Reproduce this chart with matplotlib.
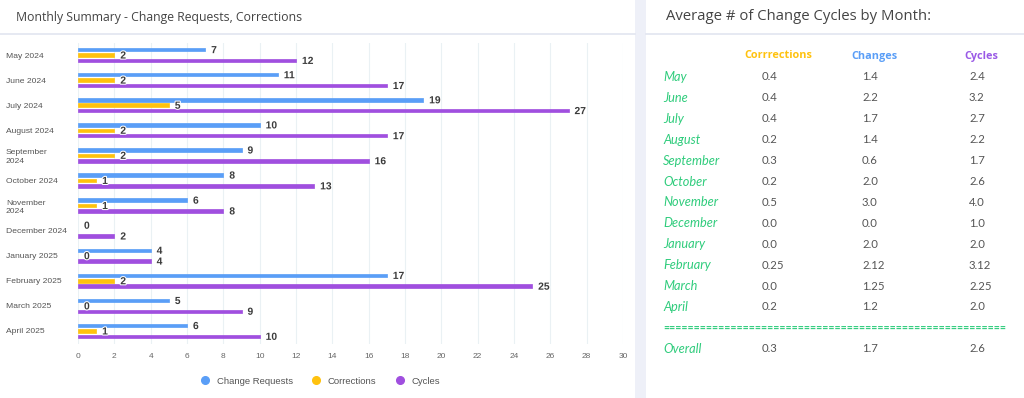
import matplotlib
matplotlib.use("Agg")
import matplotlib.pyplot as plt
import numpy as np
from matplotlib.patches import Rectangle
from matplotlib.lines import Line2D
import matplotlib.patheffects as pe

# ---------------- data ----------------
months = ["May 2024", "June 2024", "July 2024", "August 2024", "September\n2024",
          "October 2024", "November\n2024", "December 2024", "January 2025",
          "February 2025", "March 2025", "April 2025"]
change_requests = [7, 11, 19, 10, 9, 8, 6, 0, 4, 17, 5, 6]
corrections = [2, 2, 5, 2, 2, 1, 1, None, 0, 2, 0, 1]
cycles = [12, 17, 27, 17, 16, 13, 8, 2, 4, 25, 9, 10]
x_ticks = list(range(0, 31, 2))

table_months = ["May", "June", "July", "August", "September", "October", "November",
                "December", "January", "February", "March", "April"]
table_headers = ["Corrrections", "Changes", "Cycles"]
avg_corrections = ["0.4", "0.4", "0.4", "0.2", "0.3", "0.2", "0.5", "0.0", "0.0", "0.25", "0.0", "0.2"]
avg_changes = ["1.4", "2.2", "1.7", "1.4", "0.6", "2.0", "3.0", "0.0", "2.0", "2.12", "1.25", "1.2"]
avg_cycles = ["2.4", "3.2", "2.7", "2.2", "1.7", "2.6", "4.0", "1.0", "2.0", "3.12", "2.25", "2.0"]
overall = ["0.3", "1.7", "2.6"]

# ---------------- style ----------------
BLUE = "#5a9ef7"
YELLOW = "#ffc20e"
PURPLE = "#a04fdf"
GREEN = "#2fcc7c"
W, H = 1024, 398

fig = plt.figure(figsize=(W / 100, H / 100), dpi=100)
fig.patch.set_facecolor("white")

def fx(px):
    return px / W

def fy(py):
    return 1 - py / H

# background panels
fig.patches.append(Rectangle((fx(635), 0), fx(646) - fx(635), 1, transform=fig.transFigure,
                             facecolor="#eef0f8", edgecolor="none", zorder=0))
fig.lines.append(Line2D([0, fx(635)], [fy(34), fy(34)], transform=fig.transFigure,
                        color="#e2e5f0", lw=1.2))
fig.lines.append(Line2D([fx(646), 1], [fy(34), fy(34)], transform=fig.transFigure,
                        color="#e2e5f0", lw=1.2))

# titles
fig.text(fx(16), fy(17), "Monthly Summary - Change Requests, Corrections", fontsize=8.8,
         family="Open Sans", color="#444444", va="center", ha="left")
fig.text(fx(666), fy(17), "Average # of Change Cycles by Month:", fontsize=10.7,
         family="Open Sans", color="#444444", va="center", ha="left")

# ---------------- bar chart ----------------
ax = fig.add_axes([fx(78), fy(343.5), fx(623) - fx(78), (343.5 - 42.5) / H])
ax.set_facecolor("none")
y = np.arange(len(months))
off = 0.215
h = 0.14
series = [(change_requests, BLUE, -off, "Change Requests"),
          (corrections, YELLOW, 0.0, "Corrections"),
          (cycles, PURPLE, off, "Cycles")]
for vals, col, o, name in series:
    for i, v in enumerate(vals):
        if v is None:
            continue
        if v > 0:
            ax.barh(y[i] + o, v, height=h, color=col, edgecolor=col, linewidth=0.5,
                    joinstyle="round", zorder=3)
        ax.text(v + 0.33, y[i] + o + 0.02, str(v), fontsize=7.4, fontweight="bold",
                family="Liberation Sans", color="#3b3b3b", va="center", ha="left", zorder=4,
                path_effects=[pe.withStroke(linewidth=1.5, foreground="white")])

ax.set_xlim(0, 30)
ax.set_ylim(len(months) - 0.5, -0.5)
ax.set_xticks(x_ticks)
ax.set_xticklabels([str(t) for t in x_ticks], fontsize=6, color="#666666",
                   family="Liberation Sans")
ax.set_yticks(y)
ax.set_yticklabels(months, fontsize=6.1, color="#555555", family="Liberation Sans",
                   ha="left", linespacing=1.25)
ax.tick_params(axis="y", length=0, pad=(78 - 6) * 0.72)
ax.tick_params(axis="x", length=0, pad=7)
ax.grid(axis="x", color="#eaf1f4", lw=0.8, zorder=0)
ax.grid(axis="y", visible=False)
for s in ax.spines.values():
    s.set_visible(False)

handles = [Line2D([], [], marker="o", ls="none", markersize=5.5, markerfacecolor=c,
                  markeredgecolor=c, label=n) for _, c, _, n in series]
fig.legend(handles=handles, loc="center", bbox_to_anchor=(fx(318), fy(381)), ncol=3,
           frameon=False, prop={"family": "Liberation Sans", "size": 6.8},
           handletextpad=0.2, columnspacing=1.5, labelcolor="#555555")

# ---------------- table ----------------
header_x = [778, 874, 981]
header_col = [YELLOW, BLUE, "#9a5ae6"]
for t, x, c in zip(table_headers, header_x, header_col):
    fig.text(fx(x), fy(56), t, fontsize=7.8, family="Open Sans", fontweight="bold",
             color=c, ha="center", va="center")

row_y0, row_dy = 77, 20.9
val_x = [762, 862, 969]
for i, m in enumerate(table_months):
    yy = fy(row_y0 + i * row_dy)
    fig.text(fx(663), yy, m, fontsize=9.2, family="Lato", style="italic", color=GREEN,
             ha="left", va="center")
    for x, col in zip(val_x, [avg_corrections, avg_changes, avg_cycles]):
        fig.text(fx(x), yy, col[i], fontsize=8.2, family="Lato", color="#555555",
                 ha="left", va="center")

fig.text(fx(663), fy(328.5), "=" * 56, fontsize=7.6, family="Lato", fontweight="bold",
         color=GREEN, ha="left", va="center")
fig.text(fx(663), fy(349), "Overall", fontsize=9.2, family="Lato", style="italic",
         color=GREEN, ha="left", va="center")
for x, v in zip(val_x, overall):
    fig.text(fx(x), fy(349), v, fontsize=8.2, family="Lato", color="#555555",
             ha="left", va="center")

fig.savefig("out.png", dpi=100, facecolor="white")
